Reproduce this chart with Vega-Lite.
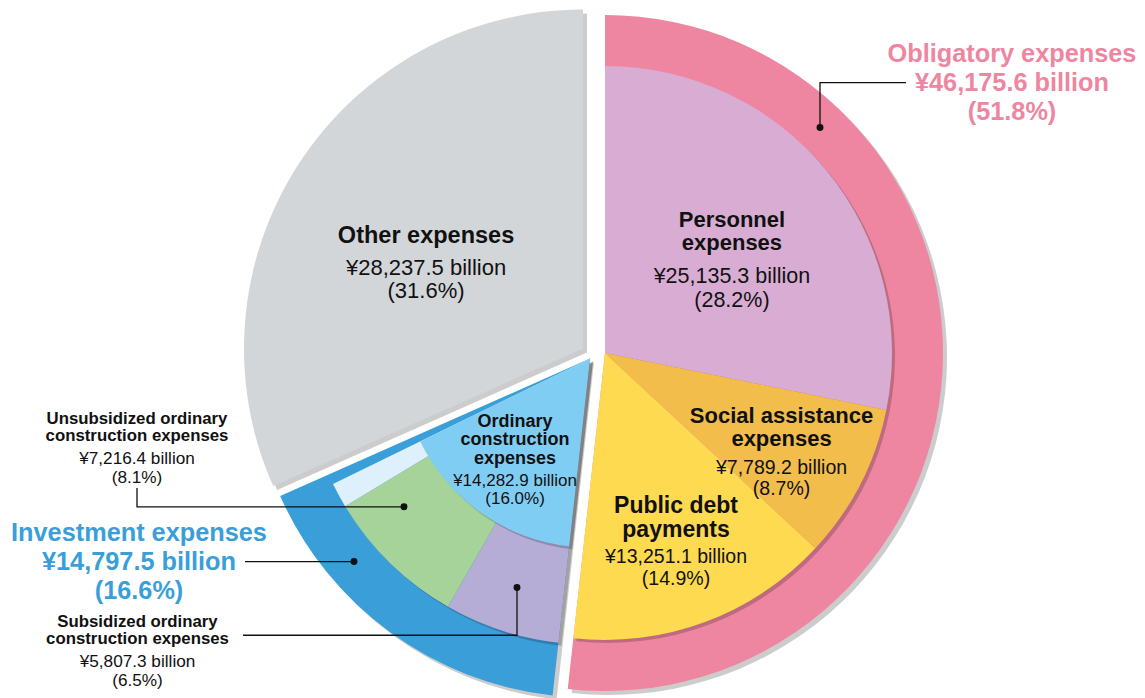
{
"$schema":"https://vega.github.io/schema/vega-lite/v6.json",
"width":1145,"height":698,"padding":0,
"autosize":{"type":"fit","contains":"padding"},
"background":"#ffffff",
"config":{"view":{"stroke":null},"text":{"font":"Liberation Sans"}},
"datasets":{
"items":[
{"group":"Obligatory expenses","sub":"Personnel expenses","name":"Personnel expenses","title":"Personnel\nexpenses","value":25135.3,"pct":28.2,"order":1},
{"group":"Obligatory expenses","sub":"Social assistance expenses","name":"Social assistance expenses","title":"Social assistance\nexpenses","value":7789.2,"pct":8.7,"order":2},
{"group":"Obligatory expenses","sub":"Public debt payments","name":"Public debt payments","title":"Public debt\npayments","value":13251.1,"pct":14.9,"order":3},
{"group":"Investment expenses","sub":"Ordinary construction expenses","name":"Subsidized ordinary construction expenses","title":"Subsidized ordinary\nconstruction expenses","value":5807.3,"pct":6.5,"order":4},
{"group":"Investment expenses","sub":"Ordinary construction expenses","name":"Unsubsidized ordinary construction expenses","title":"Unsubsidized ordinary\nconstruction expenses","value":7216.4,"pct":8.1,"order":5},
{"group":"Investment expenses","sub":"Ordinary construction expenses","name":"Other ordinary construction expenses","title":"Other ordinary\nconstruction expenses","value":1259.2,"pct":1.4,"order":6},
{"group":"Investment expenses","sub":"Other investment expenses","name":"Other investment expenses","title":"Other investment\nexpenses","value":514.6,"pct":0.6,"order":7},
{"group":"Other expenses","sub":"Other expenses","name":"Other expenses","title":"Other expenses","value":28237.5,"pct":31.6,"order":8}
],
"callouts":[
{"id":"Obligatory expenses","kind":"group","x":1012,"y":62,"title":"Obligatory expenses\n¥46,175.6 billion\n(51.8%)"},
{"id":"Investment expenses","kind":"group","x":139,"y":543.5,"title":"Investment expenses\n¥14,797.5 billion\n(16.6%)"},
{"id":"Unsubsidized ordinary construction expenses","kind":"item","x":137,"y":426,"vy":466,"title":"Unsubsidized ordinary\nconstruction expenses","amount":"¥7,216.4 billion\n(8.1%)"},
{"id":"Subsidized ordinary construction expenses","kind":"item","x":137.5,"y":629.5,"vy":670,"title":"Subsidized ordinary\nconstruction expenses","amount":"¥5,807.3 billion\n(6.5%)"}
],
"leaders":[
{"line":"obl","ord":1,"x":906,"y":83,"dot":false},
{"line":"obl","ord":2,"x":820,"y":83,"dot":false},
{"line":"obl","ord":3,"x":820,"y":128,"dot":true},
{"line":"inv","ord":1,"x":245,"y":564,"dot":false},
{"line":"inv","ord":2,"x":354,"y":564,"dot":true},
{"line":"uns","ord":1,"x":137,"y":490,"dot":false},
{"line":"uns","ord":2,"x":137,"y":509,"dot":false},
{"line":"uns","ord":3,"x":404,"y":509,"dot":true},
{"line":"sub","ord":1,"x":243,"y":638,"dot":false},
{"line":"sub","ord":2,"x":517,"y":638,"dot":false},
{"line":"sub","ord":3,"x":517,"y":590,"dot":true}
]
},
"layer":[
{
"data":{"name":"items"},
"transform":[
{"stack":"value","groupby":[],"sort":[{"field":"order","order":"ascending"}],"as":["s0","s1"]},
{"calculate":"(datum.s0 + datum.s1) / 2","as":"mid"},
{"calculate":"'¥' + format(datum.value, ',.1f') + ' billion\\n(' + format(datum.pct, '.1f') + '%)'","as":"amount"}
],
"layer":[
{"transform":[{"filter":"datum.group === 'Other expenses'"},{"aggregate":[{"op":"min","field":"s0","as":"s0"},{"op":"max","field":"s1","as":"s1"}],"groupby":["group"]}],
"mark":{"type":"arc","radius":339,"radius2":0,"xOffset":14.5,"yOffset":5,"color":"#000000","opacity":0.2},
"encoding":{"theta":{"field":"s0","type":"quantitative","stack":null,"scale":{"domain":[0,89210.6],"range":[0,6.283185307179586],"zero":false,"nice":false}},"theta2":{"field":"s1"}}},
{"transform":[{"filter":"datum.group === 'Other expenses'"},{"aggregate":[{"op":"min","field":"s0","as":"s0"},{"op":"max","field":"s1","as":"s1"}],"groupby":["group"]}],
"mark":{"type":"arc","radius":339,"radius2":0,"xOffset":10.5,"yOffset":1},
"encoding":{"theta":{"field":"s0","type":"quantitative","stack":null,"scale":{"domain":[0,89210.6],"range":[0,6.283185307179586],"zero":false,"nice":false}},"theta2":{"field":"s1"},
"color":{"field":"group","type":"nominal","legend":null,"scale":{"domain":["Obligatory expenses","Investment expenses","Other expenses","Personnel expenses","Social assistance expenses","Public debt payments","Ordinary construction expenses","Subsidized ordinary construction expenses","Unsubsidized ordinary construction expenses","Other ordinary construction expenses","Other investment expenses"],"range":["#EE86A1","#3A9FD9","#D3D6D9","#D9ADD3","#F2BD4B","#FDDA50","#80CDF4","#B6ADD6","#A6D39A","#DDF0FB","#3A9FD9"]}}}},
{"transform":[{"filter":"datum.group === 'Investment expenses'"},{"aggregate":[{"op":"min","field":"s0","as":"s0"},{"op":"max","field":"s1","as":"s1"}],"groupby":["group"]}],
"mark":{"type":"arc","radius":339,"radius2":0,"xOffset":21.5,"yOffset":15,"color":"#000000","opacity":0.2},
"encoding":{"theta":{"field":"s0","type":"quantitative","stack":null,"scale":{"domain":[0,89210.6],"range":[0,6.283185307179586],"zero":false,"nice":false}},"theta2":{"field":"s1"}}},
{"transform":[{"filter":"datum.group === 'Investment expenses'"},{"aggregate":[{"op":"min","field":"s0","as":"s0"},{"op":"max","field":"s1","as":"s1"}],"groupby":["group"]}],
"mark":{"type":"arc","radius":339,"radius2":0,"xOffset":17.5,"yOffset":11},
"encoding":{"theta":{"field":"s0","type":"quantitative","stack":null,"scale":{"domain":[0,89210.6],"range":[0,6.283185307179586],"zero":false,"nice":false}},"theta2":{"field":"s1"},
"color":{"field":"group","type":"nominal","legend":null}}},
{"transform":[{"filter":"datum.sub === 'Ordinary construction expenses'"}],
"mark":{"type":"arc","radius":286,"radius2":0,"xOffset":20.5,"yOffset":14,"color":"#000000","opacity":0.2},
"encoding":{"theta":{"field":"s0","type":"quantitative","stack":null,"scale":{"domain":[0,89210.6],"range":[0,6.283185307179586],"zero":false,"nice":false}},"theta2":{"field":"s1"}}},
{"transform":[{"filter":"datum.sub === 'Ordinary construction expenses'"}],
"mark":{"type":"arc","radius":286,"radius2":0,"xOffset":17.5,"yOffset":11},
"encoding":{"theta":{"field":"s0","type":"quantitative","stack":null,"scale":{"domain":[0,89210.6],"range":[0,6.283185307179586],"zero":false,"nice":false}},"theta2":{"field":"s1"},
"color":{"field":"name","type":"nominal","legend":null}}},
{"transform":[{"filter":"datum.sub === 'Ordinary construction expenses'"},{"aggregate":[{"op":"min","field":"s0","as":"s0"},{"op":"max","field":"s1","as":"s1"}],"groupby":["sub"]}],
"mark":{"type":"arc","radius":189,"radius2":0,"xOffset":20.5,"yOffset":14,"color":"#000000","opacity":0.2},
"encoding":{"theta":{"field":"s0","type":"quantitative","stack":null,"scale":{"domain":[0,89210.6],"range":[0,6.283185307179586],"zero":false,"nice":false}},"theta2":{"field":"s1"}}},
{"transform":[{"filter":"datum.sub === 'Ordinary construction expenses'"},{"aggregate":[{"op":"min","field":"s0","as":"s0"},{"op":"max","field":"s1","as":"s1"}],"groupby":["sub"]}],
"mark":{"type":"arc","radius":189,"radius2":0,"xOffset":17.5,"yOffset":11},
"encoding":{"theta":{"field":"s0","type":"quantitative","stack":null,"scale":{"domain":[0,89210.6],"range":[0,6.283185307179586],"zero":false,"nice":false}},"theta2":{"field":"s1"},
"color":{"field":"sub","type":"nominal","legend":null}}},
{"transform":[{"filter":"datum.group === 'Obligatory expenses'"},{"aggregate":[{"op":"min","field":"s0","as":"s0"},{"op":"max","field":"s1","as":"s1"}],"groupby":["group"]}],
"mark":{"type":"arc","radius":338,"radius2":0,"xOffset":36.5,"yOffset":9.5,"color":"#000000","opacity":0.2},
"encoding":{"theta":{"field":"s0","type":"quantitative","stack":null,"scale":{"domain":[0,89210.6],"range":[0,6.283185307179586],"zero":false,"nice":false}},"theta2":{"field":"s1"}}},
{"transform":[{"filter":"datum.group === 'Obligatory expenses'"},{"aggregate":[{"op":"min","field":"s0","as":"s0"},{"op":"max","field":"s1","as":"s1"}],"groupby":["group"]}],
"mark":{"type":"arc","radius":338,"radius2":0,"xOffset":32.5,"yOffset":5.5},
"encoding":{"theta":{"field":"s0","type":"quantitative","stack":null,"scale":{"domain":[0,89210.6],"range":[0,6.283185307179586],"zero":false,"nice":false}},"theta2":{"field":"s1"},
"color":{"field":"group","type":"nominal","legend":null}}},
{"transform":[{"filter":"datum.group === 'Obligatory expenses'"}],
"mark":{"type":"arc","radius":287,"radius2":0,"xOffset":35.5,"yOffset":8.5,"color":"#000000","opacity":0.2},
"encoding":{"theta":{"field":"s0","type":"quantitative","stack":null,"scale":{"domain":[0,89210.6],"range":[0,6.283185307179586],"zero":false,"nice":false}},"theta2":{"field":"s1"}}},
{"transform":[{"filter":"datum.group === 'Obligatory expenses'"}],
"mark":{"type":"arc","radius":287,"radius2":0,"xOffset":32.5,"yOffset":5.5},
"encoding":{"theta":{"field":"s0","type":"quantitative","stack":null,"scale":{"domain":[0,89210.6],"range":[0,6.283185307179586],"zero":false,"nice":false}},"theta2":{"field":"s1"},
"color":{"field":"name","type":"nominal","legend":null}}},

{"transform":[{"filter":"datum.name === 'Personnel expenses'"}],
"mark":{"type":"text","radius":164,"xOffset":32.5,"yOffset":5.5,"dy":-21.7,"fontSize":22,"fontWeight":"bold","lineHeight":23,"lineBreak":"\n","align":"center","baseline":"alphabetic","color":"#111111"},
"encoding":{"theta":{"field":"mid","type":"quantitative","stack":null,"scale":{"domain":[0,89210.6],"range":[0,6.283185307179586],"zero":false,"nice":false}},"text":{"field":"title"}}},
{"transform":[{"filter":"datum.name === 'Personnel expenses'"}],
"mark":{"type":"text","radius":164,"xOffset":32.5,"yOffset":5.5,"dy":33.8,"fontSize":21.5,"lineHeight":24,"lineBreak":"\n","align":"center","baseline":"alphabetic","color":"#111111"},
"encoding":{"theta":{"field":"mid","type":"quantitative","stack":null,"scale":{"domain":[0,89210.6],"range":[0,6.283185307179586],"zero":false,"nice":false}},"text":{"field":"amount"}}},
{"transform":[{"filter":"datum.name === 'Social assistance expenses'"}],
"mark":{"type":"text","radius":198.4,"xOffset":32.5,"yOffset":5.5,"dy":-20.5,"fontSize":22,"fontWeight":"bold","lineHeight":23,"lineBreak":"\n","align":"center","baseline":"alphabetic","color":"#111111"},
"encoding":{"theta":{"field":"mid","type":"quantitative","stack":null,"scale":{"domain":[0,89210.6],"range":[0,6.283185307179586],"zero":false,"nice":false}},"text":{"field":"title"}}},
{"transform":[{"filter":"datum.name === 'Social assistance expenses'"}],
"mark":{"type":"text","radius":198.4,"xOffset":32.5,"yOffset":5.5,"dy":30.5,"fontSize":19.5,"lineHeight":20.5,"lineBreak":"\n","align":"center","baseline":"alphabetic","color":"#111111"},
"encoding":{"theta":{"field":"mid","type":"quantitative","stack":null,"scale":{"domain":[0,89210.6],"range":[0,6.283185307179586],"zero":false,"nice":false}},"text":{"field":"amount"}}},
{"transform":[{"filter":"datum.name === 'Public debt payments'"}],
"mark":{"type":"text","radius":203.7,"xOffset":32.5,"yOffset":5.5,"dy":-30.9,"fontSize":23,"fontWeight":"bold","lineHeight":24,"lineBreak":"\n","align":"center","baseline":"alphabetic","color":"#111111"},
"encoding":{"theta":{"field":"mid","type":"quantitative","stack":null,"scale":{"domain":[0,89210.6],"range":[0,6.283185307179586],"zero":false,"nice":false}},"text":{"field":"title"}}},
{"transform":[{"filter":"datum.name === 'Public debt payments'"}],
"mark":{"type":"text","radius":203.7,"xOffset":32.5,"yOffset":5.5,"dy":19.1,"fontSize":19.5,"lineHeight":22,"lineBreak":"\n","align":"center","baseline":"alphabetic","color":"#111111"},
"encoding":{"theta":{"field":"mid","type":"quantitative","stack":null,"scale":{"domain":[0,89210.6],"range":[0,6.283185307179586],"zero":false,"nice":false}},"text":{"field":"amount"}}},
{"transform":[{"filter":"datum.name === 'Other expenses'"}],
"mark":{"type":"text","radius":187.2,"xOffset":10.5,"yOffset":1,"dy":-3.5,"fontSize":23.5,"fontWeight":"bold","lineHeight":24,"lineBreak":"\n","align":"center","baseline":"alphabetic","color":"#111111"},
"encoding":{"theta":{"field":"mid","type":"quantitative","stack":null,"scale":{"domain":[0,89210.6],"range":[0,6.283185307179586],"zero":false,"nice":false}},"text":{"field":"title"}}},
{"transform":[{"filter":"datum.name === 'Other expenses'"}],
"mark":{"type":"text","radius":187.2,"xOffset":10.5,"yOffset":1,"dy":28.5,"fontSize":22,"lineHeight":23.5,"lineBreak":"\n","align":"center","baseline":"alphabetic","color":"#111111"},
"encoding":{"theta":{"field":"mid","type":"quantitative","stack":null,"scale":{"domain":[0,89210.6],"range":[0,6.283185307179586],"zero":false,"nice":false}},"text":{"field":"amount"}}},
{"transform":[{"filter":"datum.sub === 'Ordinary construction expenses'"},{"aggregate":[{"op":"min","field":"s0","as":"s0"},{"op":"max","field":"s1","as":"s1"},{"op":"sum","field":"value","as":"value"},{"op":"sum","field":"pct","as":"pct"}],"groupby":["sub"]},{"calculate":"(datum.s0 + datum.s1) / 2","as":"mid"},{"calculate":"replace(datum.sub, / /g, '\\n')","as":"title"}],
"mark":{"type":"text","radius":130.2,"xOffset":17.5,"yOffset":11,"dy":-38.4,"fontSize":18,"fontWeight":"bold","lineHeight":18.5,"lineBreak":"\n","align":"center","baseline":"alphabetic","color":"#111111"},
"encoding":{"theta":{"field":"mid","type":"quantitative","stack":null,"scale":{"domain":[0,89210.6],"range":[0,6.283185307179586],"zero":false,"nice":false}},"text":{"field":"title"}}},
{"transform":[{"filter":"datum.sub === 'Ordinary construction expenses'"},{"aggregate":[{"op":"min","field":"s0","as":"s0"},{"op":"max","field":"s1","as":"s1"},{"op":"sum","field":"value","as":"value"},{"op":"sum","field":"pct","as":"pct"}],"groupby":["sub"]},{"calculate":"(datum.s0 + datum.s1) / 2","as":"mid"},{"calculate":"'¥' + format(datum.value, ',.1f') + ' billion\\n(' + format(datum.pct, '.1f') + '%)'","as":"amount"}],
"mark":{"type":"text","radius":130.2,"xOffset":17.5,"yOffset":11,"dy":21.5,"fontSize":17,"lineHeight":17.5,"lineBreak":"\n","align":"center","baseline":"alphabetic","color":"#111111"},
"encoding":{"theta":{"field":"mid","type":"quantitative","stack":null,"scale":{"domain":[0,89210.6],"range":[0,6.283185307179586],"zero":false,"nice":false}},"text":{"field":"amount"}}}
]
},
{
"data":{"name":"callouts"},
"layer":[
{"transform":[{"filter":"datum.kind === 'group'"}],
"mark":{"type":"text","fontSize":25.3,"fontWeight":"bold","lineHeight":29,"lineBreak":"\n","align":"center","baseline":"alphabetic"},
"encoding":{"x":{"field":"x","type":"quantitative","axis":null,"scale":{"domain":[0,1145],"nice":false,"zero":false}},
"y":{"field":"y","type":"quantitative","axis":null,"scale":{"domain":[0,698],"nice":false,"zero":false,"reverse":true}},
"text":{"field":"title"},
"color":{"field":"id","type":"nominal","legend":null}}},
{"transform":[{"filter":"datum.kind === 'item'"}],
"mark":{"type":"text","fontSize":16.8,"fontWeight":"bold","lineHeight":17,"lineBreak":"\n","align":"center","baseline":"alphabetic","color":"#111111"},
"encoding":{"x":{"field":"x","type":"quantitative"},"y":{"field":"y","type":"quantitative"},"text":{"field":"title"}}},
{"transform":[{"filter":"datum.kind === 'item'"}],
"mark":{"type":"text","fontSize":17.2,"lineHeight":19,"lineBreak":"\n","align":"center","baseline":"alphabetic","color":"#111111"},
"encoding":{"x":{"field":"x","type":"quantitative"},"y":{"field":"vy","type":"quantitative"},"text":{"field":"amount"}}}
]
},
{
"data":{"name":"leaders"},
"layer":[
{"mark":{"type":"line","color":"#111111","strokeWidth":1.3},
"encoding":{"x":{"field":"x","type":"quantitative"},"y":{"field":"y","type":"quantitative"},"detail":{"field":"line"},"order":{"field":"ord","type":"quantitative"}}},
{"transform":[{"filter":"datum.dot"}],
"mark":{"type":"point","filled":true,"size":48,"color":"#111111","opacity":1},
"encoding":{"x":{"field":"x","type":"quantitative"},"y":{"field":"y","type":"quantitative"}}}
]
}
]
}
